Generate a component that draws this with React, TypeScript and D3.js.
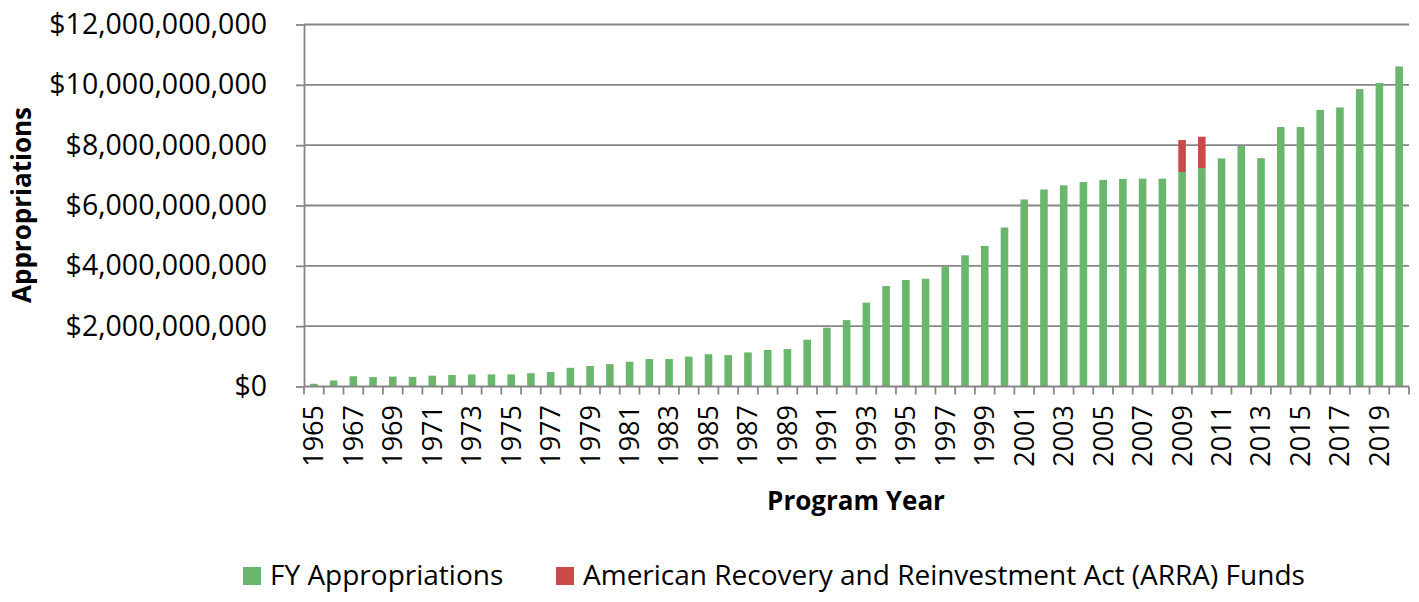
import React, { useRef, useEffect } from 'react';
import * as d3 from 'd3';

// program years 1965..2020
const years = [
  '1965', '1966', '1967', '1968', '1969', '1970', '1971', '1972', '1973', '1974',
  '1975', '1976', '1977', '1978', '1979', '1980', '1981', '1982', '1983', '1984',
  '1985', '1986', '1987', '1988', '1989', '1990', '1991', '1992', '1993', '1994',
  '1995', '1996', '1997', '1998', '1999', '2000', '2001', '2002', '2003', '2004',
  '2005', '2006', '2007', '2008', '2009', '2010', '2011', '2012', '2013', '2014',
  '2015', '2016', '2017', '2018', '2019', '2020',
];

// FY appropriations, billions of dollars
const fyAppropriations = [
  0.09, 0.20, 0.34, 0.31, 0.33, 0.32, 0.36, 0.38, 0.40, 0.40,
  0.40, 0.44, 0.48, 0.62, 0.68, 0.74, 0.82, 0.91, 0.91, 0.99,
  1.07, 1.04, 1.13, 1.21, 1.24, 1.55, 1.95, 2.20, 2.78, 3.33,
  3.53, 3.57, 3.98, 4.35, 4.66, 5.27, 6.20, 6.53, 6.67, 6.78,
  6.85, 6.88, 6.89, 6.89, 7.11, 7.24, 7.56, 7.97, 7.57, 8.60,
  8.60, 9.17, 9.25, 9.86, 10.06, 10.61,
];

// ARRA funds, billions of dollars
const arraFunds = [
  0, 0, 0, 0, 0, 0, 0, 0, 0, 0,
  0, 0, 0, 0, 0, 0, 0, 0, 0, 0,
  0, 0, 0, 0, 0, 0, 0, 0, 0, 0,
  0, 0, 0, 0, 0, 0, 0, 0, 0, 0,
  0, 0, 0, 0, 1.06, 1.04, 0, 0, 0, 0,
  0, 0, 0, 0, 0, 0,
];

const yTicks = [0, 2e9, 4e9, 6e9, 8e9, 10e9, 12e9];
const seriesNames = ['FY Appropriations', 'American Recovery and Reinvestment Act (ARRA) Funds'];
const colors = ['#6AB66D', '#C94A48'];

const App = () => {
  const chartRef = useRef(null);

  useEffect(() => {
    const svg = d3.select(chartRef.current);
    svg.selectAll('*').remove();
    const font = '"Open Sans", sans-serif';
    const left = 304, right = 1409, top = 24.5, bottom = 386.5;
    const gray = '#868686';

    const x = d3.scaleBand()
      .domain(years)
      .range([left, right])
      .paddingInner(0.615)
      .paddingOuter(0.3075);
    const y = d3.scaleLinear()
      .domain([0, 12e9])
      .range([bottom, top]);

    // gridlines
    svg.append('g')
      .selectAll('line')
      .data(yTicks.slice(1))
      .enter()
      .append('line')
      .attr('x1', left)
      .attr('x2', right)
      .attr('y1', (d) => y(d))
      .attr('y2', (d) => y(d))
      .attr('stroke', gray)
      .attr('stroke-width', 1.8);

    const rows = years.map((yr, i) => ({
      year: yr,
      fy: fyAppropriations[i] * 1e9,
      arra: arraFunds[i] * 1e9,
    }));
    const stacked = d3.stack().keys(['fy', 'arra'])(rows);

    svg.append('g')
      .selectAll('g')
      .data(stacked)
      .enter()
      .append('g')
      .attr('fill', (d, i) => colors[i])
      .selectAll('rect')
      .data((d) => d.filter((p) => p[1] - p[0] > 0))
      .enter()
      .append('rect')
      .attr('x', (d) => x(d.data.year))
      .attr('width', x.bandwidth())
      .attr('y', (d) => y(d[1]))
      .attr('height', (d) => y(d[0]) - y(d[1]));

    // y axis
    const yAxis = svg.append('g')
      .attr('transform', `translate(${left},0)`)
      .call(d3.axisLeft(y).tickValues(yTicks).tickFormat(d3.format('$,')).tickSize(8).tickPadding(29).tickSizeOuter(0));
    yAxis.select('.domain').attr('stroke', gray).attr('stroke-width', 1.8);
    yAxis.selectAll('.tick line').attr('stroke', gray).attr('stroke-width', 1.8);
    yAxis.selectAll('.tick text')
      .attr('font-family', font)
      .attr('font-size', 28.5)
      .attr('fill', '#000');

    // x axis line and ticks at band boundaries
    const step = x.step();
    svg.append('line')
      .attr('x1', left)
      .attr('x2', right)
      .attr('y1', bottom)
      .attr('y2', bottom)
      .attr('stroke', gray)
      .attr('stroke-width', 1.8);
    svg.append('g')
      .selectAll('line')
      .data(d3.range(years.length + 1))
      .enter()
      .append('line')
      .attr('x1', (d) => left + d * step)
      .attr('x2', (d) => left + d * step)
      .attr('y1', bottom)
      .attr('y2', bottom + 8)
      .attr('stroke', gray)
      .attr('stroke-width', 1.8);

    svg.append('g')
      .selectAll('text')
      .data(years.filter((d, i) => i % 2 === 0))
      .enter()
      .append('text')
      .attr('transform', (d) => `translate(${x(d) + x.bandwidth() / 2},405) rotate(-90)`)
      .attr('text-anchor', 'end')
      .attr('dy', '0.35em')
      .attr('font-family', font)
      .attr('font-size', 27)
      .attr('fill', '#000')
      .text((d) => d);

    // axis titles
    svg.append('text')
      .attr('transform', 'translate(31,205) rotate(-90)')
      .attr('text-anchor', 'middle')
      .attr('font-family', font)
      .attr('font-weight', 'bold')
      .attr('font-size', 26)
      .attr('fill', '#000')
      .text('Appropriations');
    svg.append('text')
      .attr('x', 856)
      .attr('y', 510)
      .attr('text-anchor', 'middle')
      .attr('font-family', font)
      .attr('font-weight', 'bold')
      .attr('font-size', 26)
      .attr('fill', '#000')
      .text('Program Year');

    // legend
    const legendX = [243, 556];
    const legend = svg.append('g')
      .selectAll('g')
      .data(seriesNames)
      .enter()
      .append('g')
      .attr('transform', (d, i) => `translate(${legendX[i]},567)`);
    legend.append('rect')
      .attr('width', 18)
      .attr('height', 18)
      .attr('fill', (d, i) => colors[i]);
    legend.append('text')
      .attr('x', 27)
      .attr('y', 18)
      .attr('font-family', font)
      .attr('font-size', 28)
      .attr('fill', '#000')
      .text((d) => d);
  }, []);

  return (
    <svg ref={chartRef} width="1419" height="602" style={{ position: 'absolute', left: 0, top: 0, background: '#fff' }}></svg>
  );
};

export default App;
